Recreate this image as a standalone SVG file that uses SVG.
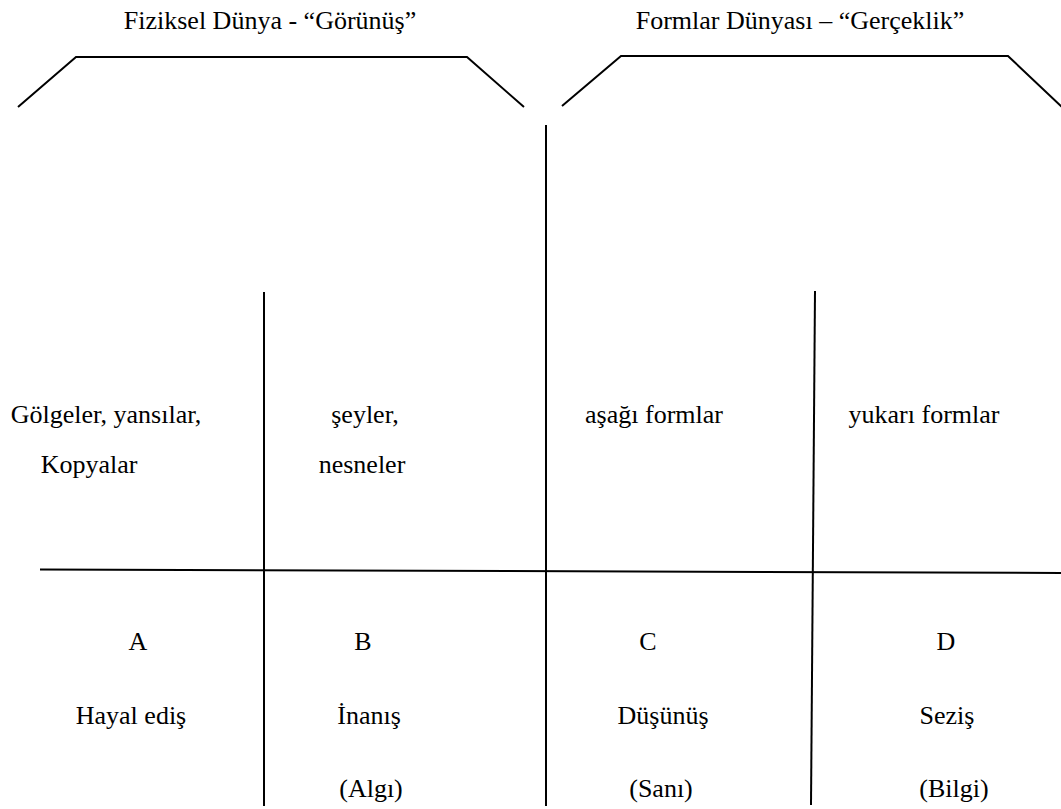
<svg xmlns="http://www.w3.org/2000/svg" width="1061" height="809" viewBox="0 0 1061 809">
<style>
text{font-family:"Liberation Serif","Times New Roman",serif;font-size:26px;fill:#000;text-anchor:middle}
.ln{stroke:#000;stroke-width:2;fill:none}
</style>
<rect width="1061" height="809" fill="#fff"/>
<g id="titles">
<text x="270" y="29">Fiziksel Dünya - “Görünüş”</text>
<text x="800" y="29">Formlar Dünyası – “Gerçeklik”</text>
</g>
<g id="connectors">
<polyline class="ln" points="18,107 76,57 467,57 524,107"/>
<polyline class="ln" points="562,106 621,56 1008,56 1062,107"/>
<line class="ln" x1="546" y1="125" x2="546" y2="806"/>
<line class="ln" x1="264" y1="292" x2="264" y2="806"/>
<line class="ln" x1="815" y1="291" x2="811" y2="805"/>
<line class="ln" x1="40" y1="569.5" x2="1061" y2="573"/>
</g>
<g id="nodeA">
<text x="106" y="423">Gölgeler, yansılar,</text>
<text x="89" y="473">Kopyalar</text>
<text x="138" y="650">A</text>
<text x="131" y="724">Hayal ediş</text>
</g>
<g id="nodeB">
<text x="365" y="423">şeyler,</text>
<text x="362" y="473">nesneler</text>
<text x="363" y="650">B</text>
<text x="369" y="724">İnanış</text>
<text x="371" y="797">(Algı)</text>
</g>
<g id="nodeC">
<text x="654" y="423">aşağı formlar</text>
<text x="648" y="650">C</text>
<text x="663" y="724">Düşünüş</text>
<text x="661" y="797">(Sanı)</text>
</g>
<g id="nodeD">
<text x="924" y="423">yukarı formlar</text>
<text x="946" y="650">D</text>
<text x="947" y="724">Seziş</text>
<text x="954" y="797">(Bilgi)</text>
</g>
</svg>
